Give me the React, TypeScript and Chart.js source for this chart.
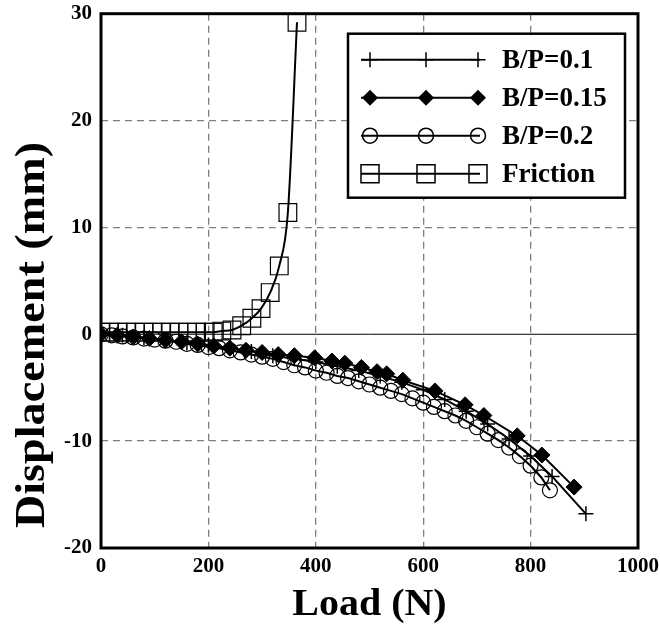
import React, { useEffect, useRef } from 'react';
import { Chart, registerables } from 'chart.js';

Chart.register(...registerables);

const FONT = '"Liberation Serif", "Times New Roman", serif';

const xTickValues = [0, 200, 400, 600, 800, 1000];
const yTickValues = [-20, -10, 0, 10, 20, 30];
const seriesLabels = ['B/P=0.1', 'B/P=0.15', 'B/P=0.2', 'Friction'];
const xTitle = 'Load (N)';
const yTitle = 'Displacement (mm)';

const bp01X = [0, 40, 80, 120, 160, 200, 240, 280, 320, 360, 400, 440, 480, 520, 560, 600, 640, 680, 720, 760, 800, 840, 903];
const bp01Y = [0, -0.1, -0.3, -0.5, -0.8, -1.0, -1.3, -1.6, -2.0, -2.3, -2.6, -3.0, -3.4, -3.9, -4.5, -5.2, -6.1, -7.2, -8.4, -9.8, -11.4, -13.3, -16.8];

const bp015X = [0, 30, 60, 90, 120, 150, 180, 210, 240, 270, 300, 330, 360, 398, 430, 454, 485, 514, 532, 562, 622, 678, 713, 775, 821, 881];
const bp015Y = [0, -0.1, -0.25, -0.4, -0.55, -0.7, -0.9, -1.1, -1.3, -1.5, -1.7, -1.9, -2.0, -2.2, -2.5, -2.7, -3.1, -3.5, -3.7, -4.3, -5.3, -6.6, -7.6, -9.5, -11.3, -14.3];

const bp02X = [0, 20, 40, 60, 80, 100, 120, 140, 160, 180, 200, 220, 240, 260, 280, 300, 320, 340, 360, 380, 400, 420, 440, 460, 480, 500, 520, 540, 560, 580, 600, 620, 640, 660, 680, 700, 720, 740, 760, 780, 800, 820, 836];
const bp02Y = [0, -0.1, -0.2, -0.3, -0.4, -0.5, -0.6, -0.7, -0.9, -1.0, -1.2, -1.3, -1.5, -1.7, -1.9, -2.1, -2.3, -2.6, -2.9, -3.1, -3.4, -3.6, -3.9, -4.1, -4.4, -4.7, -5.0, -5.3, -5.6, -6.0, -6.4, -6.8, -7.2, -7.6, -8.1, -8.7, -9.3, -9.9, -10.6, -11.4, -12.3, -13.4, -14.6];

const frictionX = [0, 16, 32, 48, 64, 80, 97, 113, 129, 145, 161, 178, 194, 209, 225, 244, 262, 281, 298, 315, 332, 348, 365];
const frictionY = [0.2, 0.2, 0.2, 0.2, 0.2, 0.2, 0.2, 0.2, 0.2, 0.2, 0.2, 0.2, 0.2, 0.2, 0.3, 0.4, 0.8, 1.5, 2.4, 3.9, 6.4, 11.4, 29.2];

const toPoints = (xs: number[], ys: number[]) => xs.map((x, i) => ({ x, y: ys[i] }));

function drawMarker(ctx: CanvasRenderingContext2D, kind: string, x: number, y: number) {
  ctx.save();
  ctx.strokeStyle = '#000';
  ctx.fillStyle = '#000';
  ctx.lineWidth = 1.5;
  ctx.beginPath();
  if (kind === 'cross') {
    ctx.moveTo(x - 7.5, y); ctx.lineTo(x + 7.5, y);
    ctx.moveTo(x, y - 7.5); ctx.lineTo(x, y + 7.5);
    ctx.stroke();
  } else if (kind === 'diamond') {
    ctx.moveTo(x, y - 8); ctx.lineTo(x + 8, y); ctx.lineTo(x, y + 8); ctx.lineTo(x - 8, y); ctx.closePath();
    ctx.fill();
  } else if (kind === 'circle') {
    ctx.arc(x, y, 7.5, 0, Math.PI * 2);
    ctx.stroke();
  } else {
    ctx.rect(x - 9, y - 9, 18, 18);
    ctx.stroke();
  }
  ctx.restore();
}

const framePlugin = {
  id: 'frame',
  beforeDatasetsDraw(chart: any) {
    const { ctx, chartArea: a, scales } = chart;
    const y0 = scales.y.getPixelForValue(0);
    ctx.save();
    ctx.strokeStyle = '#000';
    ctx.lineWidth = 1;
    ctx.beginPath();
    ctx.moveTo(a.left, y0);
    ctx.lineTo(a.right, y0);
    ctx.stroke();
    ctx.restore();
  },
  afterDatasetsDraw(chart: any) {
    const { ctx, chartArea: a } = chart;
    ctx.save();
    ctx.strokeStyle = '#000';
    ctx.lineWidth = 3;
    ctx.strokeRect(a.left, a.top, a.right - a.left, a.bottom - a.top);

    // legend
    const bx = a.left + 247;
    const by = a.top + 20;
    const bw = 277;
    const bh = 164;
    ctx.fillStyle = '#fff';
    ctx.fillRect(bx, by, bw, bh);
    ctx.lineWidth = 2.5;
    ctx.strokeRect(bx, by, bw, bh);
    const kinds = ['cross', 'diamond', 'circle', 'square'];
    seriesLabels.forEach((label, i) => {
      const cy = by + 26 + i * 38;
      const mx = [bx + 22, bx + 78, bx + 130];
      mx.forEach((m) => drawMarker(ctx, kinds[i], m, cy));
      ctx.strokeStyle = '#000';
      ctx.lineWidth = 2;
      ctx.beginPath();
      ctx.moveTo(bx + 13, cy);
      ctx.lineTo(bx + 132, cy);
      ctx.stroke();
      ctx.fillStyle = '#000';
      ctx.font = 'bold 27px ' + FONT;
      ctx.textBaseline = 'middle';
      ctx.textAlign = 'left';
      ctx.fillText(label, bx + 154, cy + 1);
    });

    // axis titles
    ctx.fillStyle = '#000';
    ctx.textAlign = 'center';
    ctx.textBaseline = 'middle';
    ctx.save();
    ctx.translate(33, 335);
    ctx.rotate(-Math.PI / 2);
    ctx.scale(1.1, 1);
    ctx.font = 'bold 42px ' + FONT;
    ctx.fillText(yTitle, 0, 0);
    ctx.restore();
    ctx.save();
    ctx.translate((a.left + a.right) / 2, 605);
    ctx.scale(1.08, 1);
    ctx.font = 'bold 37px ' + FONT;
    ctx.fillText(xTitle, 0, 0);
    ctx.restore();
    ctx.restore();
  },
};

export default function App() {
  const ref = useRef<HTMLCanvasElement | null>(null);
  useEffect(() => {
    if (!ref.current) return;
    const chart = new Chart(ref.current, {
      type: 'line',
      data: {
        datasets: [
          {
            label: seriesLabels[0],
            data: toPoints(bp01X, bp01Y),
            borderColor: '#000',
            backgroundColor: '#000',
            borderWidth: 2,
            pointStyle: 'cross',
            pointRadius: 7.5,
            pointBorderWidth: 1.5,
            tension: 0,
          },
          {
            label: seriesLabels[1],
            data: toPoints(bp015X, bp015Y),
            borderColor: '#000',
            backgroundColor: '#000',
            borderWidth: 2,
            pointStyle: 'rectRot',
            pointRadius: 8,
            pointBorderWidth: 1,
            pointBackgroundColor: '#000',
            tension: 0,
          },
          {
            label: seriesLabels[2],
            data: toPoints(bp02X, bp02Y),
            borderColor: '#000',
            backgroundColor: 'rgba(0,0,0,0)',
            borderWidth: 2,
            pointStyle: 'circle',
            pointRadius: 7.5,
            pointBorderWidth: 1.2,
            pointBackgroundColor: 'rgba(0,0,0,0)',
            tension: 0,
          },
          {
            label: seriesLabels[3],
            data: toPoints(frictionX, frictionY),
            borderColor: '#000',
            backgroundColor: 'rgba(0,0,0,0)',
            borderWidth: 2,
            pointStyle: 'rect',
            pointRadius: 12.5,
            pointBorderWidth: 1.2,
            pointBackgroundColor: 'rgba(0,0,0,0)',
            cubicInterpolationMode: 'monotone',
          },
        ],
      },
      options: {
        responsive: false,
        animation: false,
        devicePixelRatio: 1,
        layout: { padding: { top: 13, right: 22, left: 0, bottom: 0 } },
        plugins: { legend: { display: false }, tooltip: { enabled: false } },
        scales: {
          x: {
            type: 'linear',
            min: 0,
            max: 1000,
            afterFit: (s: any) => { s.height = 78; s.paddingLeft = 0; s.paddingRight = 0; },
            afterBuildTicks: (s: any) => { s.ticks = xTickValues.map((v) => ({ value: v })); },
            ticks: {
              color: '#000',
              padding: 6,
              maxRotation: 0,
              callback: (v: any) => String(v),
              font: { family: FONT, size: 21, weight: 'bold' },
            },
            grid: {
              color: (c: any) => (c.tick && (c.tick.value === 0 || c.tick.value === 1000) ? 'rgba(0,0,0,0)' : '#7f7f7f'),
              lineWidth: 1.3,
              drawTicks: false,
            },
            border: { display: false, dash: [7, 5] },
            title: { display: false },
          },
          y: {
            type: 'linear',
            min: -20,
            max: 30,
            afterFit: (s: any) => { s.width = 101; s.paddingTop = 0; s.paddingBottom = 0; },
            afterBuildTicks: (s: any) => { s.ticks = yTickValues.map((v) => ({ value: v })); },
            ticks: {
              color: '#000',
              padding: 9,
              callback: (v: any) => String(v),
              font: { family: FONT, size: 21, weight: 'bold' },
            },
            grid: {
              color: (c: any) => (c.tick && (c.tick.value === 0 || c.tick.value === 30 || c.tick.value === -20) ? 'rgba(0,0,0,0)' : '#7f7f7f'),
              lineWidth: 1.3,
              drawTicks: false,
            },
            border: { display: false, dash: [7, 5] },
            title: { display: false },
          },
        },
      },
      plugins: [framePlugin],
    } as any);
    return () => chart.destroy();
  }, []);
  return (
    <div style={{ position: 'absolute', left: 0, top: 0, width: 660, height: 626, background: '#fff' }}>
      <canvas ref={ref} width={660} height={626} style={{ display: 'block', width: 660, height: 626 }} />
    </div>
  );
}
